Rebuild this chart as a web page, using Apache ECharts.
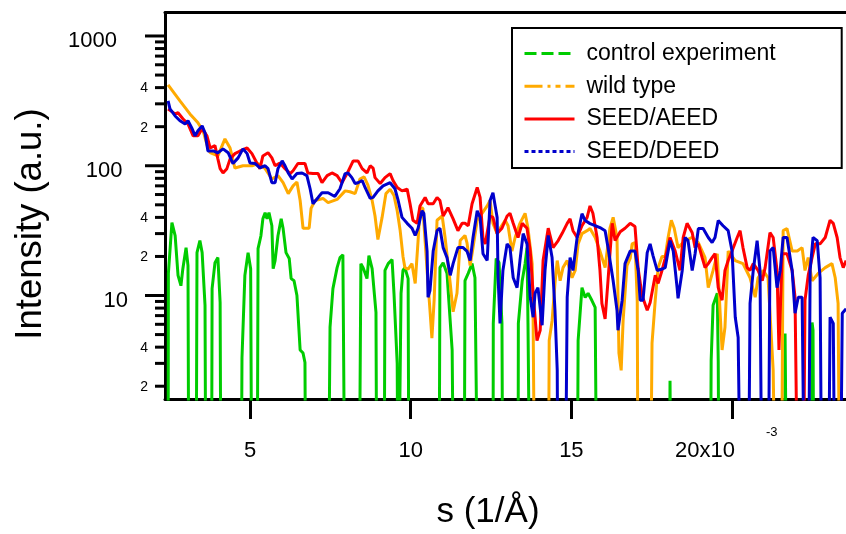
<!DOCTYPE html>
<html><head><meta charset="utf-8">
<script src="https://cdn.jsdelivr.net/npm/echarts@6/dist/echarts.min.js"></script>
<style>html,body{margin:0;padding:0;background:#fff}#c{width:846px;height:534px}</style>
</head><body><div id="c"></div>
<script>
// ---- axis ranges / ticks ----
const X_MIN = 2.3545, X_MAX = 23.546;
const Y_MIN = 1.594, Y_MAX = 1517;
const xTickValues = [5, 10, 15, 20];
const yMajorTicks = [10, 100, 1000];
const yMajorLabels = ['10', '100', '1000'];
const yMinorTicks = [2,3,4,5,6,7,8,9,20,30,40,50,60,70,80,90,200,300,400,500,600,700,800,900];
const yMinorLabelVals = [2, 4, 20, 40, 200, 400];
const yMinorLabelText = ['2', '4', '2', '4', '2', '4'];
const seriesNames = ['control experiment', 'wild type', 'SEED/AEED', 'SEED/DEED'];

// ---- data: s (10^-3 1/Å) and intensity (a.u.); 0.1 = below the axis ----
const ctS = [2.45,2.46,2.57,2.67,2.76,2.82,2.85,2.91,3.01,3.07,
3.10,3.32,3.35,3.44,3.51,3.60,3.63,3.80,3.82,3.91,
4.00,4.07,4.10,4.72,4.75,4.84,4.94,5.02,5.06,5.22,
5.25,5.34,5.40,5.47,5.53,5.59,5.68,5.72,5.78,5.87,
5.97,6.03,6.12,6.22,6.28,6.37,6.46,6.56,6.65,6.71,
6.74,7.43,7.49,7.58,7.71,7.80,7.89,7.96,8.39,8.45,
8.52,8.64,8.70,8.80,8.92,8.95,9.17,9.20,9.30,9.42,
9.48,9.58,9.61,9.67,9.70,9.76,9.82,9.92,9.95,10.88,
10.91,11.01,11.13,11.29,11.35,11.66,11.69,11.79,11.91,12.00,
12.10,12.56,12.57,12.66,12.75,12.84,12.87,13.34,13.35,13.47,
13.56,13.62,13.65,13.72,15.18,15.21,15.33,15.43,15.52,15.64,
15.74,15.80,18.04,18.07,18.11,19.32,19.35,19.41,19.54,19.57,
19.60,21.64,21.65,21.68,21.71,22.46,22.49,22.52,22.55,23.55];
const ctI = [0.1,14.8,36.4,28.9,14.3,14.3,11.9,16.1,23.4,17,
0.1,0.1,21.4,26.5,21.4,8.4,0.1,0.1,11.3,17.9,
19.6,8.8,0.1,0.1,3.3,14.3,21.4,16.1,0.1,0.1,
23,28.9,39,43.5,39,43.5,34.5,16.1,18.6,28.9,
39,32.8,21.4,19.3,13.5,13,10,3.8,3.6,3.05,
0.1,0.1,5.7,11.3,16.4,19.6,20.6,0.1,0.1,17.6,
16.4,13.5,20.3,16.1,7.4,0.1,0.1,15.6,17.6,18.9,
10.4,3.0,0.1,0.1,10.4,15.6,16.4,13.5,0.1,0.1,
16.4,17.9,14.8,3.8,0.1,0.1,13,14.8,17.6,13.7,
0.1,0.1,6.1,19.3,17.9,6.1,0.1,0.1,6.1,13,
17.6,23.4,6.1,0.1,0.1,4.5,11.5,9.65,10.4,9.15,
8.1,0.1,0.1,2.2,0.1,0.1,3.16,8.4,10.4,3.16,
0.1,0.1,5.1,5.1,0.1,0.1,6.2,5.4,0.1,0.1];

const wtS = [2.45,2.82,3.13,3.38,3.54,3.69,3.76,4.00,4.22,4.38,
4.53,4.78,5.06,5.25,5.47,5.68,5.87,6.03,6.19,6.34,
6.46,6.56,6.65,6.84,6.90,7.02,7.27,7.43,7.71,7.96,
8.11,8.27,8.42,8.55,8.67,8.80,8.89,8.98,9.11,9.23,
9.36,9.48,9.58,9.67,9.76,9.82,9.92,10.04,10.14,10.23,
10.29,10.38,10.51,10.60,10.66,10.73,10.82,10.98,11.07,11.23,
11.32,11.44,11.54,11.69,11.75,11.85,11.94,12.07,12.22,12.38,
12.47,12.56,12.69,12.78,12.94,13.03,13.15,13.25,13.40,13.56,
13.65,13.78,13.81,13.87,14.28,14.31,14.40,14.49,14.56,14.65,
14.74,14.87,15.02,15.12,15.21,15.33,15.49,15.58,15.74,15.89,
16.05,16.20,16.30,16.42,16.48,16.55,16.61,16.73,16.83,16.89,
16.98,17.05,17.08,17.45,17.51,17.61,17.70,17.82,17.92,18.01,
18.11,18.20,18.32,18.54,18.76,18.95,19.16,19.26,19.41,19.54,
19.63,19.69,19.78,19.88,20.10,20.34,20.56,20.72,20.81,20.97,
21.12,21.28,21.37,21.53,21.59,21.71,21.87,22.03,22.18,22.27,
22.37,22.49,22.68,22.90,23.11,23.21,23.30,23.36,23.6];
const wtI = [420,316,251,214,186,137,126,119,161,137,
96,100,100,104,95,79,84,74,61,70,
75,54,33,33,47,54,56,52,55,64,
63,61,79,82,71,54,41,27,40,61,
66,59,45,32,20,16.4,16,17.6,12.4,26.5,
47.5,47,15.6,7.7,4.7,9.2,38,41,28,12.4,
7.5,10.4,26.5,29,25.6,17,23.4,38,43,49,
54,36,30,33,38,34.5,22,28,36,43,
33,17.6,6.4,0.1,0.1,4.5,6.4,12.4,18.6,13,
16.4,18.6,13.7,15.6,25,30,31.6,32.8,28,22,
16.4,33,40,28,3.6,2.65,6.4,17,19.3,25,
25.6,9,0.1,0.1,4.3,9.2,16.4,20,20,28,
38,33,23.4,26.5,28,25.6,19.6,11.5,15.6,21,
7.3,3.8,5.7,22,18.6,17.6,13.7,9.7,13.7,15.6,
13.7,2.65,0.1,0.1,31.6,32.8,22,22,23.4,15.6,
19.6,13,14.8,16.4,17.6,13.7,8.7,0.1,0.1];

const aeS = [2.45,2.67,2.76,2.91,3.07,3.23,3.38,3.51,3.66,3.76,
3.91,4.00,4.07,4.16,4.28,4.38,4.53,4.69,4.91,5.06,
5.22,5.31,5.40,5.56,5.68,5.78,5.93,6.09,6.25,6.34,
6.49,6.71,6.80,6.96,7.12,7.24,7.40,7.55,7.71,7.86,
8.02,8.21,8.36,8.49,8.64,8.74,8.83,8.89,9.05,9.20,
9.36,9.45,9.58,9.73,9.89,9.98,10.07,10.20,10.29,10.45,
10.54,10.70,10.82,10.91,11.01,11.16,11.32,11.47,11.60,11.69,
11.79,11.91,12.07,12.16,12.25,12.32,12.47,12.56,12.69,12.84,
13.00,13.09,13.19,13.34,13.47,13.62,13.72,13.81,13.93,14.03,
14.12,14.28,14.43,14.59,14.71,14.87,14.96,15.05,15.18,15.33,
15.49,15.58,15.67,15.80,15.89,15.95,16.05,16.14,16.27,16.36,
16.52,16.67,16.83,16.98,17.08,17.20,17.36,17.45,17.61,17.70,
17.82,17.92,18.07,18.23,18.38,18.48,18.60,18.76,18.85,18.95,
19.07,19.16,19.26,19.38,19.47,19.57,19.69,19.78,19.88,20.00,
20.16,20.25,20.34,20.47,20.56,20.66,20.81,20.94,21.03,21.18,
21.28,21.40,21.46,21.56,21.71,21.87,21.96,22.06,22.21,22.27,
22.37,22.49,22.59,22.74,22.90,23.05,23.15,23.27,23.36,23.46,
23.55];
const aeI = [274,251,256,230,210,170,170,193,170,137,
143,113,95,88,95,113,124,130,137,124,
104,95,119,126,115,100,105,95,87,91.5,
104,104,88,87,87,74,84,88,84,74,
87,109,109,95,88,100,96,81,73,81,
87,77,68,64,66,51,38,36,49,57,
51,51,57,54,41,47.5,39,31.6,36,36,
34.5,51,68,57,27.4,25,41,40,30,33,
41,43,36,28,36,33,22,10.4,4.5,5.4,
18.6,33,23.4,26.5,30,36,39,31.6,28,34.5,
40,49,43,28,15.6,8.7,6.6,13,36,26.5,
31,33,36,34,16,10,7.7,8.8,14.3,12.4,
15.6,19.3,28,22,15.6,28,36,30.5,23.4,25,
19.6,16.4,17.6,19.6,21,11.5,9.2,15.6,18.6,22,
28,31.6,23.4,16.4,15.6,17.6,15.6,13,16.4,30.5,
28,15.6,3.8,21,21,15.6,9.7,0.1,0.1,9.2,
14.3,19.6,25,25,28,38,36,28,19.6,16.4,
18.6];

const deS = [2.45,2.51,2.67,2.82,2.98,3.07,3.20,3.29,3.38,3.51,
3.60,3.69,3.85,4.00,4.16,4.32,4.47,4.63,4.78,4.91,
5.00,5.16,5.31,5.47,5.56,5.68,5.78,5.87,6.00,6.09,
6.19,6.31,6.46,6.62,6.77,6.87,6.96,7.12,7.24,7.43,
7.64,7.80,7.96,8.05,8.17,8.27,8.36,8.49,8.58,8.74,
8.83,8.98,9.14,9.36,9.51,9.61,9.73,9.89,10.04,10.14,
10.23,10.35,10.41,10.51,10.54,10.60,10.70,10.82,10.91,11.01,
11.13,11.23,11.32,11.47,11.63,11.75,11.85,11.94,12.07,12.16,
12.25,12.38,12.47,12.56,12.69,12.72,12.78,12.87,13.00,13.09,
13.19,13.31,13.40,13.50,13.62,13.72,13.81,13.87,13.96,14.09,
14.18,14.28,14.40,14.49,14.56,14.59,14.80,14.87,14.96,15.05,
15.18,15.33,15.43,15.58,15.74,15.89,16.05,16.14,16.30,16.42,
16.45,16.58,16.67,16.83,16.98,17.08,17.14,17.23,17.36,17.45,
17.54,17.67,17.82,17.92,18.07,18.17,18.29,18.32,18.45,18.54,
18.63,18.76,18.85,18.95,19.10,19.26,19.38,19.47,19.57,19.72,
19.88,20.00,20.10,20.19,20.28,20.50,20.56,20.66,20.78,20.87,
20.94,21.12,21.18,21.28,21.40,21.50,21.59,21.71,21.87,21.96,
22.06,22.18,22.27,22.37,22.43,22.52,22.65,22.74,22.80,22.99,
23.05,23.15,23.21,23.36,23.43,23.55];
const deI = [316,274,242,222,210,222,193,170,186,203,
179,130,130,126,135,126,104,115,135,124,
105,104,96.5,100,95,74,74,95,109,100,
88,79,87,88,84,66.5,51,57,62,62,
58,66.5,87,88,81,73,74,77,68,56,
57,64,70,74,66.5,54,40,36,33,29,
33,45,43,22,9.7,10.9,22,31.6,33,23.4,
19.6,14.3,17.6,23.4,23.4,22,18.6,28,45,40,
21,18.6,54,62,40,13.7,6.1,15.6,25,23.4,
13.7,11.5,18.6,30,25,9.7,6.8,10.4,11.5,5.9,
15.6,29,19.6,7.7,2.65,0.1,0.1,9.7,19.6,15.6,
28,42.7,37.8,35.8,34.5,33.4,31.6,23.4,13,7.7,
5.4,9.2,17.6,22,22,15.6,9.2,9.2,21.4,25,
20.3,15.6,16,16.4,26.5,22,11.5,9.5,15.6,28,
26.5,15.6,21,32.8,32.8,28,25.6,28,37.8,34.5,
31.6,22,6.8,4.75,0.1,0.1,8.7,15.6,26.5,15.6,
0.1,0.1,22,23.4,11.5,15.6,28,28,15.6,7.3,
9.7,9.7,0.1,0.1,15.6,28,26.5,13.7,0.1,0.1,
6.8,6.1,0.1,0.1,7.3,7.9];

// ---- chart ----
const FONT = '"Liberation Sans", Arial, Helvetica, sans-serif';
const zip = (s, v) => s.map((x, i) => [x, v[i]]);

const yTickItems = [];
yMajorTicks.forEach((v, i) => yTickItems.push({ v: v, major: true, label: yMajorLabels[i] }));
yMinorTicks.forEach(v => {
  const k = yMinorLabelVals.indexOf(v);
  yTickItems.push({ v: v, major: false, label: k >= 0 ? yMinorLabelText[k] : '' });
});

function lineSeries(name, s, v, color, z) {
  return {
    name: name, type: 'line', data: zip(s, v), symbol: 'none', z: z,
    lineStyle: { width: 3, color: color }, itemStyle: { color: color },
    emphasis: { disabled: true }, animation: false, clip: true
  };
}

const hideSym = { opacity: 0 };
const chart = echarts.init(document.getElementById('c'), null, { renderer: 'canvas' });
chart.setOption({
  backgroundColor: '#fff',
  animation: false,
  grid: { left: 165, top: 12.5, right: 0, bottom: 135, containLabel: false },
  xAxis: [{
    type: 'value', min: X_MIN, max: X_MAX, position: 'bottom',
    axisLine: { show: true, lineStyle: { color: '#000', width: 3 } },
    axisTick: { show: true, customValues: xTickValues, length: 20, lineStyle: { color: '#000', width: 3 } },
    axisLabel: {
      show: true, customValues: xTickValues, margin: 41, color: '#000', fontSize: 22, fontFamily: FONT,
      formatter: function (v) { return v === 20 ? '{r|20x10}' : String(v); },
      rich: { r: { fontSize: 22, fontFamily: FONT, color: '#000', padding: [0, 54, 0, 0] } }
    },
    splitLine: { show: false }
  }, {
    type: 'value', min: X_MIN, max: X_MAX, position: 'top',
    axisLine: { show: true, lineStyle: { color: '#000', width: 3 } },
    axisTick: { show: false }, axisLabel: { show: false }, splitLine: { show: false }
  }],
  yAxis: {
    type: 'log', logBase: 10, min: Y_MIN, max: Y_MAX,
    axisLine: { show: true, lineStyle: { color: '#000', width: 3 } },
    axisTick: { show: false }, axisLabel: { show: false }, splitLine: { show: false }
  },
  legend: {
    orient: 'vertical', left: 512, top: 28,
    data: [
      { name: seriesNames[0], itemStyle: hideSym, lineStyle: { type: [12, 5], width: 3 } },
      { name: seriesNames[1], itemStyle: hideSym, lineStyle: { type: [18, 5, 3, 5, 5, 5], width: 3 } },
      { name: seriesNames[2], itemStyle: hideSym, lineStyle: { type: 'solid', width: 3 } },
      { name: seriesNames[3], itemStyle: hideSym, lineStyle: { type: [4, 3], width: 3 } }
    ],
    itemStyle: hideSym,
    itemWidth: 50, itemHeight: 12, itemGap: 9.7,
    padding: [14, 66, 5, 11],
    borderColor: '#000', borderWidth: 2, backgroundColor: '#fff',
    selectedMode: false,
    textStyle: { fontSize: 23, fontFamily: FONT, color: '#000', lineHeight: 22, padding: [0, 0, 0, 7] }
  },
  graphic: [
    { type: 'text', x: 31, y: 224, rotation: Math.PI / 2,
      style: { text: 'Intensity (a.u.)', font: '36.5px ' + FONT, fill: '#000',
        textAlign: 'center', textVerticalAlign: 'middle', align: 'center', verticalAlign: 'middle' } },
    { type: 'text', x: 488, y: 512,
      style: { text: 's (1/Å)', font: '35px ' + FONT, fill: '#000',
        textAlign: 'center', textVerticalAlign: 'middle', align: 'center', verticalAlign: 'middle' } },
    { type: 'text', x: 766, y: 432,
      style: { text: '-3', font: '13px ' + FONT, fill: '#000',
        textAlign: 'left', textVerticalAlign: 'middle', align: 'left', verticalAlign: 'middle' } }
  ],
  series: [
    lineSeries(seriesNames[0], ctS, ctI, '#00cc00', 2),
    lineSeries(seriesNames[1], wtS, wtI, '#ffaa00', 3),
    lineSeries(seriesNames[2], aeS, aeI, '#ff0000', 4),
    lineSeries(seriesNames[3], deS, deI, '#0000cc', 5),
    {
      name: 'yTicks', type: 'custom', silent: true, z: 10, animation: false,
      data: yTickItems.map(t => [X_MIN, t.v]),
      renderItem: function (params, api) {
        const t = yTickItems[params.dataIndex];
        const p = api.coord([X_MIN, t.v]);
        const len = t.major ? 20 : 10;
        const children = [{
          type: 'line', shape: { x1: p[0] - len, y1: p[1], x2: p[0], y2: p[1] },
          style: { stroke: '#000', lineWidth: 3 }
        }];
        if (t.label) {
          if (t.major) {
            children.push({ type: 'text', x: p[0] - 48 + (4 - t.label.length) * 5.5, y: p[1] + 5,
              style: { text: t.label, font: '22px ' + FONT, fill: '#000',
                textAlign: 'right', textVerticalAlign: 'middle', align: 'right', verticalAlign: 'middle' } });
          } else {
            children.push({ type: 'text', x: p[0] - 17, y: p[1] + 1,
              style: { text: t.label, font: '14px ' + FONT, fill: '#000',
                textAlign: 'right', textVerticalAlign: 'middle', align: 'right', verticalAlign: 'middle' } });
          }
        }
        return { type: 'group', children: children };
      }
    }
  ]
});
</script></body></html>
